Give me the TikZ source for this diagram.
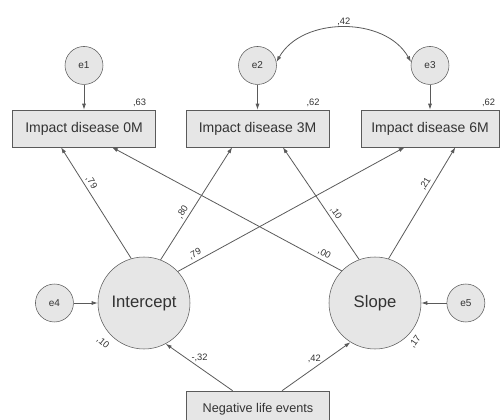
\documentclass[tikz,border=0pt]{standalone}
\usepackage{fontspec}
\setmainfont{Liberation Sans}
\usetikzlibrary{positioning}
\usetikzlibrary{arrows.meta}
\usetikzlibrary{calc}
\definecolor{linegray}{HTML}{5A5A5A}
\definecolor{boxgray}{HTML}{E6E6E6}
\definecolor{textgray}{HTML}{333333}

\begin{document}
\begin{tikzpicture}[x=0.75pt,y=-0.75pt,text=textgray]
\tikzset{obs/.style={rectangle,minimum width=107pt,minimum height=27.75pt, draw=linegray, fill=boxgray, inner sep=0pt, font=\fontsize{10.5}{12}\selectfont}}
\tikzset{lat/.style={circle,minimum size=69pt, draw=linegray, fill=boxgray, inner sep=0pt, font=\fontsize{12.5}{14}\selectfont}}
\tikzset{err/.style={circle,minimum size=28.5pt, draw=linegray, fill=boxgray, inner sep=0pt, font=\fontsize{7.5}{9}\selectfont}}
\tikzset{lbl/.style={inner sep=1pt, font=\fontsize{7}{8}\selectfont}}
\tikzset{reg/.style={draw=linegray, line width=0.6pt, -{Latex[length=4.5pt,width=3pt]}}}
\tikzset{cov/.style={draw=linegray, line width=0.6pt, {Latex[length=4.5pt,width=3pt]}-{Latex[length=4.5pt,width=3pt]}}}
\useasboundingbox (0,0) rectangle (501,420);
% observed scores
\node[obs] (imp0) at (84,128.5) {Impact disease 0M};
\node[obs] (imp3) at (257.5,128.5) {Impact disease 3M};
\node[obs, minimum width=103.5pt] (imp6) at (430,128.5) {Impact disease 6M};
\node[err, above=18.75pt of imp0] (e1) {e1};
\node[err, above=18.75pt of imp3] (e2) {e2};
\node[err, above=18.75pt of imp6] (e3) {e3};
% growth factors
\node[lat] (icpt) at (144,303) {Intercept};
\node[lat] (slope) at (375,303) {Slope};
\node[err, left=18pt of icpt] (e4) {e4};
\node[err, right=19pt of slope] (e5) {e5};
\node[obs, font=\fontsize{9.5}{11}\selectfont] (neg) at (258,409.5) {Negative life events};
% residuals
\draw[reg] (e1) -- (imp0);
\draw[reg] (e2) -- (imp3);
\draw[reg] (e3) -- (imp6);
\draw[reg] (e4) -- (icpt);
\draw[reg] (e5) -- (slope);
\draw[cov] (e2.10) to[bend left=61] node[lbl, midway, above] {,42} (e3.170);
\node[lbl, anchor=south east] at ([xshift=-6pt,yshift=1pt]imp0.north east) {,63};
\node[lbl, anchor=south east] at ([xshift=-6pt,yshift=1pt]imp3.north east) {,62};
\node[lbl, anchor=south east] at ([xshift=-2pt,yshift=1pt]imp6.north east) {,62};
% loadings
\draw[reg] (icpt.106) -- ([xshift=-17.25pt]imp0.south) node[lbl, sloped, above=1pt, pos=0.65] {,79};
\draw[reg] (icpt.69) -- ([xshift=-19pt]imp3.south) node[lbl, sloped, above=1pt, pos=0.39] {,80};
\draw[reg] (icpt.43) -- ([xshift=-19pt]imp6.south) node[lbl, sloped, above=1pt, pos=0.09] {,79};
\draw[reg] (slope.136) -- ([xshift=21pt]imp0.south) node[lbl, sloped, above=1pt, pos=0.09] {,00};
\draw[reg] (slope.110) -- ([xshift=19pt]imp3.south) node[lbl, sloped, above=1pt, pos=0.38] {,10};
\draw[reg] (slope.73) -- ([xshift=19pt]imp6.south) node[lbl, sloped, above=1pt, pos=0.64] {,21};
% predictor
\draw[reg] ([xshift=-19pt]neg.north) -- (icpt.-62) node[lbl, pos=0.7, right=3pt] {-,32};
\draw[reg] ([xshift=18pt]neg.north) -- (slope.-122) node[lbl, pos=0.65, left=3pt] {,42};
\path (icpt) ++(224:43pt) node[lbl, rotate=-40] {,10};
\path (slope) ++(-44:42pt) node[lbl, rotate=55] {,17};
\end{tikzpicture}
\end{document}
